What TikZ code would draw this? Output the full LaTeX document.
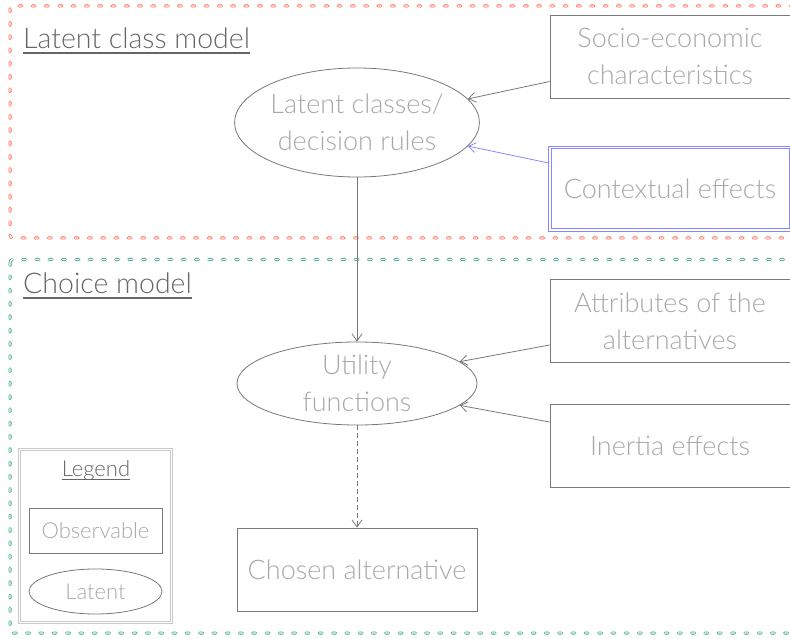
\documentclass[tikz,border=0pt]{standalone}
\usepackage{fontspec}
\setmainfont{Lato Light}
\usetikzlibrary{shapes.geometric,arrows.meta}
\definecolor{txt}{RGB}{168,168,168}
\definecolor{ln}{RGB}{120,120,120}
\definecolor{hd}{RGB}{102,102,102}
\definecolor{bl}{RGB}{135,135,255}
\definecolor{lg}{RGB}{200,200,200}
\definecolor{rd}{RGB}{255,99,71}
\definecolor{gn}{RGB}{60,170,120}
\begin{document}
\begin{tikzpicture}[x=1pt,y=-1pt,
  every node/.style={text=txt},
  big/.style={font=\fontsize{27}{37}\selectfont},
  small/.style={font=\fontsize{22}{24}\selectfont},
  obs/.style={draw=ln, line width=0.8pt, rectangle, align=center, inner sep=0pt, minimum width=240pt, minimum height=83pt, big},
  lat/.style={draw=ln, line width=0.8pt, ellipse, align=center, inner sep=0pt, minimum width=240pt, big},
  conn/.style={draw=ln, line width=0.8pt, -{Straight Barb[length=7pt,width=10pt]}},
  heading/.style={text=hd, anchor=base west, inner sep=0pt, font=\fontsize{28.5}{30}\selectfont},
  uline/.style={draw=hd, line width=1.8pt},
  redbox/.style={draw=rd, double=white, line width=0.8pt, double distance=1.4pt, dash pattern=on 3pt off 10.3pt, line cap=round, rounded corners=3pt},
  greenbox/.style={redbox, draw=gn}
]
\useasboundingbox (0,0) rectangle (790,639);

% group frames
\draw[redbox] (10,6) rectangle (805,238);
\draw[greenbox] (10,259.5) rectangle (805,633);

% headings
\node[heading] (h1) at (23,49) {Latent class model};
\draw[uline] ([yshift=-4pt]h1.base west) -- ([yshift=-4pt]h1.base east);
\node[heading] (h2) at (23,294) {Choice model};
\draw[uline] ([yshift=-4pt]h2.base west) -- ([yshift=-4pt]h2.base east);

% nodes
\node[obs] (socio) at (670,56.5) {Socio-economic\\characteristics};
\node[obs, draw=none, minimum width=242pt, minimum height=84pt] (ctx) at (670,188.5) {Contextual effects};
\draw[draw=bl, line width=0.7pt] (ctx.north west) rectangle (ctx.south east);
\draw[draw=bl, line width=0.7pt] ([shift={(2.4pt,-2.4pt)}]ctx.north west) rectangle ([shift={(-2.4pt,2.4pt)}]ctx.south east);
\node[lat, minimum height=109pt] (lc) at (357,122.5) {Latent classes/\\decision rules};
\node[obs] (attr) at (670,321) {Attributes of the\\alternatives};
\node[obs] (inert) at (670,446) {Inertia effects};
\node[lat, minimum height=83pt] (util) at (357,383.5) {Utility\\functions};
\node[obs] (chosen) at (357,569.5) {Chosen alternative};

% connectors
\draw[conn] ([yshift=-25pt]socio.west) -- (lc.12);
\draw[conn, draw=bl] ([yshift=25.5pt]ctx.west) -- (lc.-12);
\draw[conn] (lc) -- (util);
\draw[conn] ([yshift=-24pt]attr.west) -- (util.12);
\draw[conn] ([yshift=24pt]inert.west) -- (util.-12);
\draw[conn, dash pattern=on 5pt off 3pt] (util) -- (chosen);

% legend
\node[minimum width=154pt, minimum height=175pt, inner sep=0pt] (leg) at (95.5,536) {};
\draw[draw=lg, line width=0.8pt] (leg.north west) rectangle (leg.south east);
\draw[draw=lg, line width=0.8pt] ([shift={(2pt,-2pt)}]leg.north west) rectangle ([shift={(-2pt,2pt)}]leg.south east);
\node[text=hd, anchor=base, inner sep=0pt, small] (legt) at (96,476) {Legend};
\draw[draw=hd, line width=1.2pt] ([yshift=-3.5pt]legt.base west) -- ([yshift=-3.5pt]legt.base east);
\node[obs, small, minimum width=133pt, minimum height=45pt] (lobs) at (95.5,530.5) {Observable};
\node[lat, small, minimum width=133pt, minimum height=45pt] (llat) at (95.5,591.5) {Latent};
\end{tikzpicture}
\end{document}
